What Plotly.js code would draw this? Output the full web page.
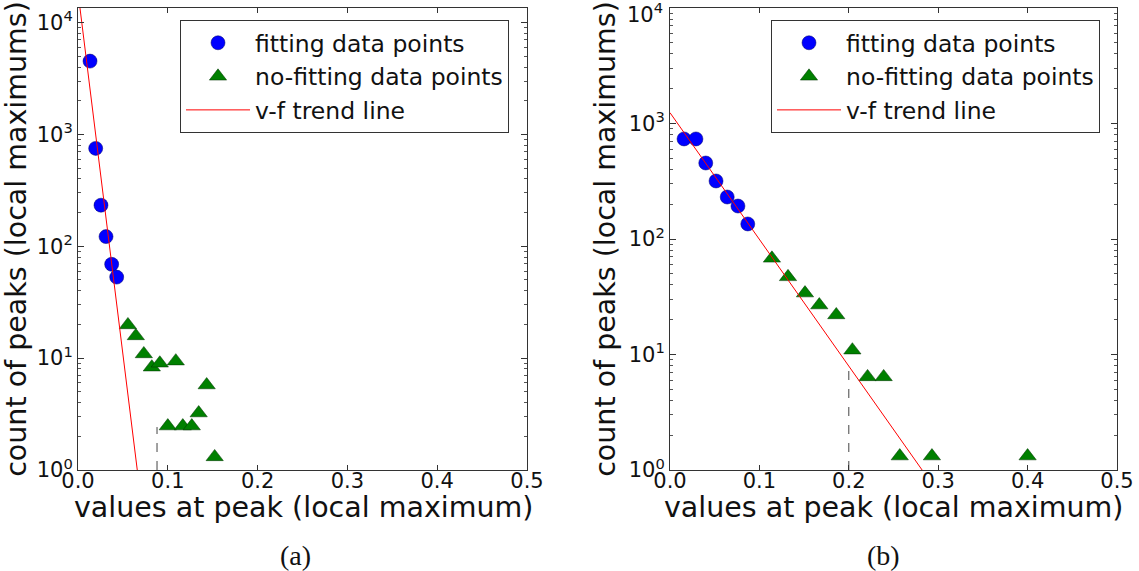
<!DOCTYPE html>
<html>
<head>
<meta charset="utf-8">
<script src="https://cdn.plot.ly/plotly-3.0.1.min.js"></script>
<style>
  html, body { margin: 0; padding: 0; background: #ffffff; }
  #chart { width: 1139px; height: 571px; }
</style>
</head>
<body>
<div id="chart"></div>
<script>
// ---------- data ----------
// panel (a)
const aFitX = [0.0134, 0.0197, 0.0256, 0.0312, 0.0375, 0.0431];
const aFitY = [4520, 750, 233, 122, 69, 53];
const aNoFitX = [0.0556, 0.0644, 0.0733, 0.0822, 0.0911, 0.1089, 0.1000, 0.1167, 0.1267, 0.1344, 0.1433, 0.1522];
const aNoFitY = [19.8, 15.8, 10.9, 8.3, 9.0, 9.4, 2.47, 2.47, 2.47, 3.23, 5.75, 1.31];
const aTrendX = [0.0, 0.066];
const aTrendY = [18700, 1];
const aCutX = [0.088, 0.088];
const aCutY = [1, 2.42];

// panel (b)
const bFitX = [0.0157, 0.029, 0.040, 0.0515, 0.064, 0.076, 0.087];
const bFitY = [735, 735, 455, 318, 231, 193, 135];
const bNoFitX = [0.114, 0.132, 0.151, 0.167, 0.186, 0.204, 0.221, 0.239, 0.257, 0.293, 0.400];
const bNoFitY = [68, 47, 34, 26.8, 22, 10.9, 6.4, 6.4, 1.32, 1.32, 1.32];
const bTrendX = [0.0, 0.282];
const bTrendY = [1240, 1];
const bCutX = [0.2, 0.2];
const bCutY = [1, 8.1];

// tick labels
const xTickVals = [0.0, 0.1, 0.2, 0.3, 0.4, 0.5];
const xTickText = ['0.0', '0.1', '0.2', '0.3', '0.4', '0.5'];
const yTickVals = [1, 10, 100, 1000, 10000];
const yTickText = ['10<sup>0</sup>', '10<sup>1</sup>', '10<sup>2</sup>', '10<sup>3</sup>', '10<sup>4</sup>'];

const seriesNames = ['fitting data points', 'no-fitting data points', 'v-f trend line'];
const xTitle = 'values at peak (local maximum)';
const yTitle = 'count of peaks (local maximums)';
const panelLabels = ['(a)', '(b)'];

// ---------- styles ----------
const FONT = 'DejaVu Sans, Verdana, sans-serif';
const SERIF = 'Liberation Serif, Times New Roman, serif';
const blue = '#0000ff';
const green = '#008000';
const red = '#ff0000';

function fitTrace(x, y, xa, ya, leg) {
  return { x: x, y: y, xaxis: xa, yaxis: ya, legend: leg, legendrank: 1, type: 'scatter', mode: 'markers',
    name: seriesNames[0], cliponaxis: false,
    marker: { symbol: 'circle', size: 14, color: blue, line: { color: '#000066', width: 0.5 } } };
}
function noFitTrace(x, y, xa, ya, leg) {
  return { x: x, y: y, xaxis: xa, yaxis: ya, legend: leg, legendrank: 2, type: 'scatter', mode: 'markers',
    name: seriesNames[1], cliponaxis: false,
    marker: { symbol: 'triangle-up', size: 15, color: green, line: { color: '#003300', width: 0.5 } } };
}
function trendTrace(x, y, xa, ya, leg) {
  return { x: x, y: y, xaxis: xa, yaxis: ya, legend: leg, legendrank: 3, type: 'scatter', mode: 'lines',
    name: seriesNames[2], line: { color: red, width: 1 } };
}
function cutTrace(x, y, xa, ya) {
  return { x: x, y: y, xaxis: xa, yaxis: ya, type: 'scatter', mode: 'lines', showlegend: false,
    hoverinfo: 'skip', line: { color: '#444444', width: 1, dash: 'dash' } };
}

const data = [
  cutTrace(aCutX, aCutY, 'x', 'y'),
  fitTrace(aFitX, aFitY, 'x', 'y', 'legend'),
  noFitTrace(aNoFitX, aNoFitY, 'x', 'y', 'legend'),
  trendTrace(aTrendX, aTrendY, 'x', 'y', 'legend'),
  cutTrace(bCutX, bCutY, 'x2', 'y2'),
  fitTrace(bFitX, bFitY, 'x2', 'y2', 'legend2'),
  noFitTrace(bNoFitX, bNoFitY, 'x2', 'y2', 'legend2'),
  trendTrace(bTrendX, bTrendY, 'x2', 'y2', 'legend2')
];

function xAxis(domain, anchor) {
  return {
    domain: domain, anchor: anchor, range: [0, 0.5], autorange: false,
    tickmode: 'array', tickvals: xTickVals, ticktext: xTickText,
    ticks: 'inside', ticklen: 5, tickwidth: 1, tickcolor: '#333',
    ticklabelstandoff: -8,
    showline: true, linecolor: '#333', linewidth: 1, mirror: 'ticks',
    showgrid: false, zeroline: false, automargin: false,
    tickfont: { family: FONT, size: 21, color: '#111' }
  };
}
function yAxis(domain, anchor, top, tv, tt) {
  return {
    domain: domain, anchor: anchor, type: 'log', range: [0, top], autorange: false,
    tickmode: 'array', tickvals: tv, ticktext: tt,
    ticks: 'inside', ticklen: 6, tickwidth: 1, tickcolor: '#333',
    minor: { ticks: 'inside', ticklen: 3, tickcolor: '#555', dtick: 'D1', showgrid: false },
    showline: true, linecolor: '#333', linewidth: 1, mirror: 'ticks',
    showgrid: false, zeroline: false, automargin: false,
    tickfont: { family: FONT, size: 21, color: '#111' },
    title: { text: yTitle, font: { family: FONT, size: 28.5, color: '#111' }, standoff: 4 }
  };
}

const W = 1139, H = 571;
const yDom = [101 / H, 563 / H];

const legendBase = {
  y: (H - 20) / H, xanchor: 'left', yanchor: 'top',
  bgcolor: '#ffffff', bordercolor: '#333', borderwidth: 1,
  font: { family: FONT, size: 23.5, color: '#111' }, itemwidth: 64,
  traceorder: 'normal'
};

function xTitleAnn(xc) {
  return { text: xTitle, xref: 'paper', yref: 'paper', x: xc / W, y: (H - 507) / H,
    showarrow: false, xanchor: 'center', yanchor: 'middle',
    font: { family: FONT, size: 28.5, color: '#111' } };
}
function panelAnn(txt, xc) {
  return { text: txt, xref: 'paper', yref: 'paper', x: xc / W, y: (H - 555) / H,
    showarrow: false, xanchor: 'center', yanchor: 'middle',
    font: { family: SERIF, size: 28, color: '#111' } };
}

// the right panel's top tick label sits at the very edge of the page;
// the axis keeps the tick mark, the label is placed just below it like the reference
const rightTopLabel = {
  text: yTickText[4], xref: 'paper', yref: 'paper', x: 665 / W, y: (H - 13) / H,
  showarrow: false, xanchor: 'right', yanchor: 'middle',
  font: { family: FONT, size: 21, color: '#111' }
};

const layout = {
  width: W, height: H,
  margin: { l: 0, r: 0, t: 0, b: 0 },
  paper_bgcolor: '#ffffff', plot_bgcolor: '#ffffff',
  font: { family: FONT, color: '#111' },
  showlegend: true,
  xaxis: xAxis([78 / W, 527 / W], 'y'),
  yaxis: yAxis(yDom, 'x', 4.13, yTickVals, yTickText),
  xaxis2: xAxis([670 / W, 1117 / W], 'y2'),
  yaxis2: yAxis(yDom, 'x2', 4.0, yTickVals, yTickText.slice(0, 4).concat([''])),
  legend: Object.assign({ x: 180 / W }, legendBase),
  legend2: Object.assign({ x: 771 / W }, legendBase),
  annotations: [
    xTitleAnn(303), xTitleAnn(893),
    panelAnn(panelLabels[0], 295), panelAnn(panelLabels[1], 883),
    rightTopLabel
  ]
};

Plotly.newPlot('chart', data, layout, { staticPlot: true, displayModeBar: false });
</script>
</body>
</html>
